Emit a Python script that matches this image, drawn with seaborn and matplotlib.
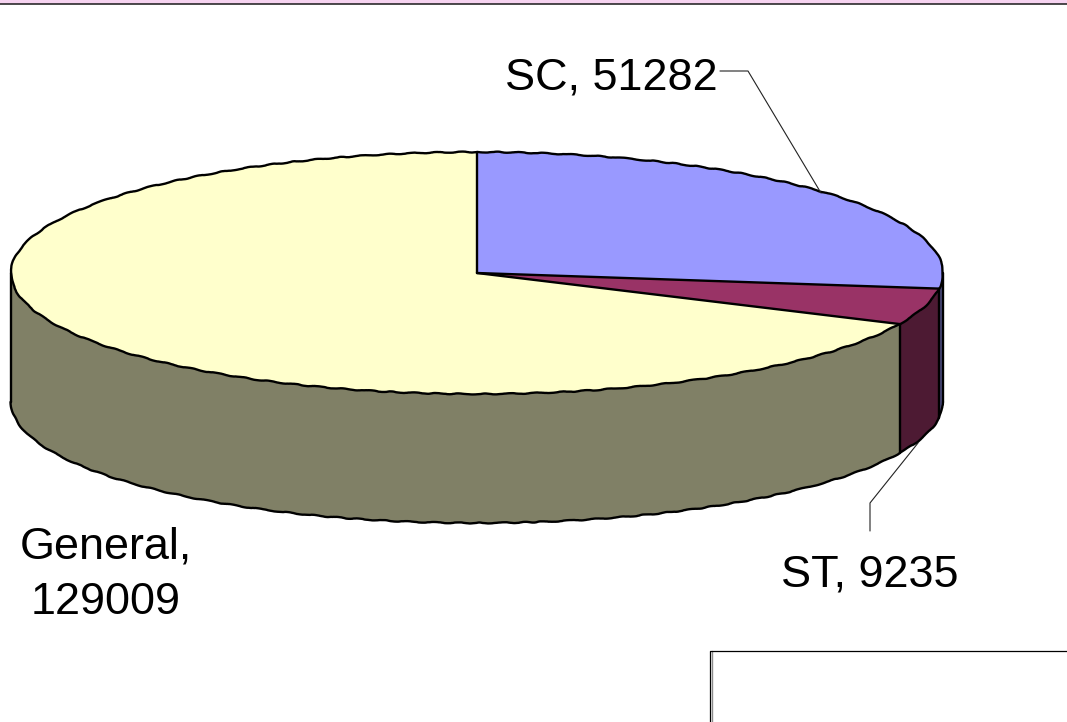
import numpy as np
import matplotlib
matplotlib.use("Agg")
import matplotlib.pyplot as plt
from matplotlib.lines import Line2D
from matplotlib.patches import Rectangle
import seaborn as sns

categories = ["SC", "ST", "General"]
values = [51282, 9235, 129009]
top_colors = ["#9999ff", "#993366", "#ffffcc"]
side_colors = ["#4d4d80", "#4d1a33", "#808066"]

W, H = 1067, 722
cx, cy, rx, ry, depth = 477, 273, 466, 121, 129
LW = 1.7

sns.set_theme(style="white")
plt.rcParams["font.family"] = ["Liberation Sans", "DejaVu Sans"]

fig = plt.figure(figsize=(W / 100, H / 100), dpi=100)
ax = fig.add_axes([0, 0, 1, 1])


def fx(x):
    return x / W


def fy(y):
    return 1 - y / H


def rim(deg_from, deg_to, drop=0.0):
    # wobbly outline like the old slide export
    t = np.radians(np.linspace(deg_from, deg_to, 400))
    line = ax.plot(np.sin(t), np.cos(t) - drop, color="black", lw=LW, zorder=5,
                   solid_capstyle="round")[0]
    line.set_sketch_params(scale=0.5, length=30, randomness=3)


# top of the pie
ax.pie(values, startangle=90, counterclock=False, colors=top_colors,
       wedgeprops={"edgecolor": "none", "zorder": 3})

# side walls, only the front half is seen
ends = np.cumsum(values) / np.sum(values) * 360
starts = np.r_[0, ends[:-1]]
d = depth / ry
for a, b, col in zip(starts, ends, side_colors):
    t = np.radians(np.linspace(max(a, 90), min(b, 270), 150))
    xs = np.sin(t)
    ys = np.cos(t)
    ax.fill(np.r_[xs, xs[::-1]], np.r_[ys, ys[::-1] - d], facecolor=col,
            edgecolor="none", zorder=2)

# outlines
rim(0, 360)
rim(90, 270, drop=d)
for ang in [0, *ends[:2]]:
    r = np.radians(ang)
    ax.plot([0, np.sin(r)], [0, np.cos(r)], color="black", lw=LW, zorder=5)
for ang in [90, *ends[:2], 270]:
    r = np.radians(ang)
    ax.plot([np.sin(r)] * 2, [np.cos(r), np.cos(r) - d], color="black", lw=LW, zorder=5)

# stretch the unit circle to the flat ellipse
ax.set_aspect("auto")
ax.set_xlim(-cx / rx, (W - cx) / rx)
ax.set_ylim(-(H - cy) / ry, cy / ry)
ax.axis("off")

# slide furniture
fig.add_artist(Rectangle((0, fy(3.5)), 1, 3.5 / H, transform=fig.transFigure,
                         facecolor="#f6d3f0", edgecolor="none"))
fig.add_artist(Line2D([0, 1], [fy(4), fy(4)], color="#1a1a1a", lw=1.1))
fig.add_artist(Line2D([fx(711.5), fx(711.5)], [0, fy(651)], color="#8c8c8c", lw=1.0))
fig.add_artist(Line2D([fx(710), fx(710), 1], [0, fy(651), fy(651)], color="black", lw=0.9))

# leader lines
fig.add_artist(Line2D([fx(720), fx(748), fx(821)], [fy(71), fy(71), fy(193)],
                      color="#222222", lw=0.8))
fig.add_artist(Line2D([fx(870), fx(870), fx(918)], [fy(531), fy(503), fy(443)],
                      color="#222222", lw=0.8))

# labels
fig.text(fx(611), fy(78), f"{categories[0]}, {values[0]}", fontsize=32.4,
         ha="center", va="center", color="black")
fig.text(fx(870), fy(575), f"{categories[1]}, {values[1]}", fontsize=32.4,
         ha="center", va="center", color="black")
fig.text(fx(106), fy(547), f"{categories[2]},", fontsize=32.4,
         ha="center", va="center", color="black")
fig.text(fx(106), fy(602), f"{values[2]}", fontsize=32.4,
         ha="center", va="center", color="black")

fig.savefig("out.png", dpi=100)
